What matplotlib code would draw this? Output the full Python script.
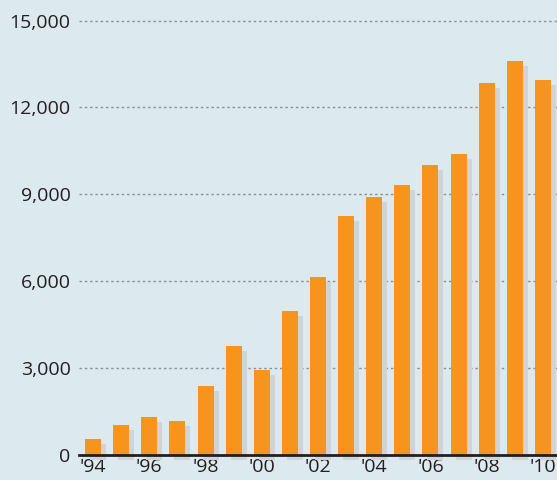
import matplotlib
matplotlib.use("Agg")
import matplotlib.pyplot as plt
import matplotlib.transforms as mtransforms
import numpy as np

years = ["'94", "'95", "'96", "'97", "'98", "'99", "'00", "'01", "'02",
         "'03", "'04", "'05", "'06", "'07", "'08", "'09", "'10"]
values = [550, 1030, 1310, 1170, 2390, 3770, 2940, 4980, 6160,
          8240, 8890, 9310, 10000, 10380, 12840, 13600, 12940]
yticks = [0, 3000, 6000, 9000, 12000, 15000]

bg = "#dce9ee"
orange = "#f7941d"
shadow = "#d1d3d4"
dark = "#231f20"

plt.rcParams['font.family'] = ['Open Sans', 'DejaVu Sans']
plt.rcParams['lines.scale_dashes'] = False

fig = plt.figure(figsize=(5.57, 4.8), dpi=100, facecolor=bg)
ax = fig.add_axes([79 / 557, 25 / 480, 1 - 79 / 557, 434.5 / 480])
ax.set_facecolor(bg)

x = np.arange(len(years))

# dotted gridlines
for t in yticks[1:]:
    ax.axhline(t, color="#8c9194", lw=1.0, dashes=(1.8, 2.0), zorder=1, clip_on=False)

# drop shadow: same bars shifted 5px right, 5px down
shift = mtransforms.offset_copy(ax.transData, fig=fig, x=5, y=-5, units='dots')
ax.bar(x, values, width=0.57, color=shadow, transform=shift, zorder=2, clip_on=False)
ax.bar(x, values, width=0.57, color=orange, zorder=3)

ax.axhline(0, color=dark, lw=2.0, zorder=4, clip_on=False)

ax.set_xlim(-0.5, 16.5)
ax.set_ylim(0, 15000)
ax.set_yticks(yticks)
ax.set_yticklabels([f"{t:,}" for t in yticks])
ax.set_xticks(x[::2])
ax.set_xticklabels(years[::2])
ax.tick_params(axis='both', length=0, labelsize=14, colors=dark)
ax.tick_params(axis='y', pad=6)
ax.tick_params(axis='x', pad=2.5)
for s in ax.spines.values():
    s.set_visible(False)

fig.savefig("out.png", dpi=100, facecolor=bg)
